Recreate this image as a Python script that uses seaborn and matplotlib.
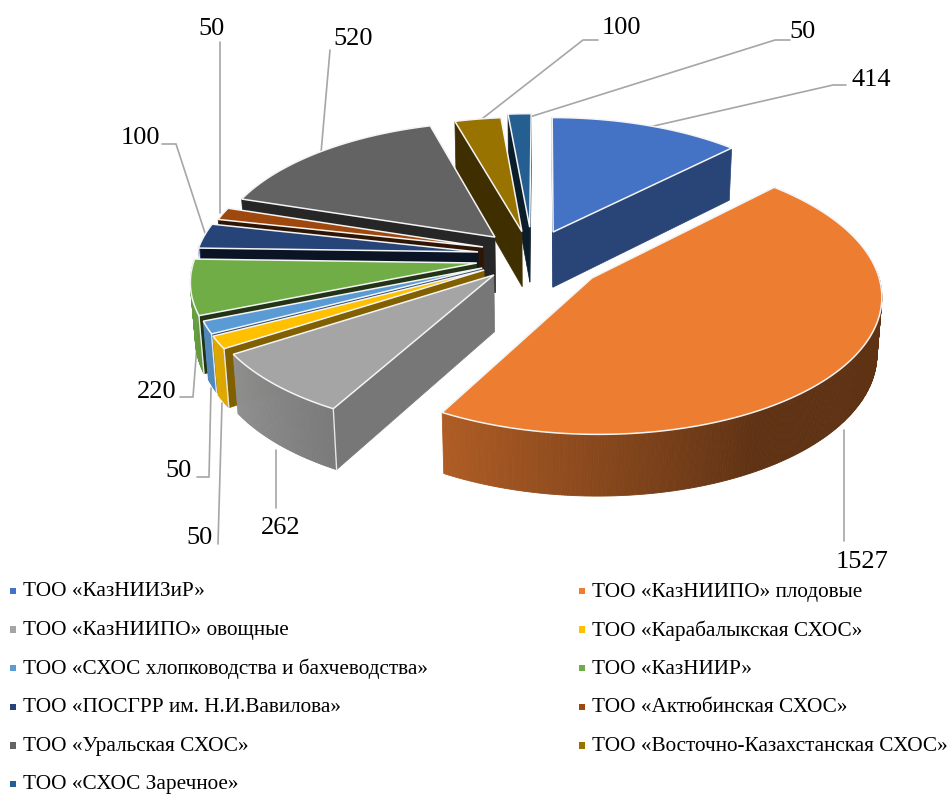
import numpy as np
import pandas as pd
import seaborn as sns
import matplotlib.pyplot as plt

names = ['ТОО «КазНИИЗиР»', 'ТОО «КазНИИПО» плодовые', 'ТОО «КазНИИПО» овощные',
         'ТОО «Карабалыкская СХОС»', 'ТОО «СХОС хлопководства и бахчеводства»', 'ТОО «КазНИИР»',
         'ТОО «ПОСГРР им. Н.И.Вавилова»', 'ТОО «Актюбинская СХОС»', 'ТОО «Уральская СХОС»',
         'ТОО «Восточно-Казахстанская СХОС»', 'ТОО «СХОС Заречное»']
values = [414, 1527, 262, 50, 50, 220, 100, 50, 520, 100, 50]
colors = ['#4472C4', '#ED7D31', '#A5A5A5', '#FFC000', '#5B9BD5', '#70AD47',
          '#264478', '#9E480E', '#636363', '#997300', '#255E91']

# смещение секторов и затемнение боковых граней
shift_x = [0.033, 0.167, -0.175, -0.21, -0.217, -0.237, -0.235, -0.218, -0.177, -0.08, -0.052]
shift_y = [0.222, -0.125, -0.103, -0.067, -0.052, -0.015, 0.068, 0.106, 0.182, 0.225, 0.26]
side_shade = [0.6, 0.6, 0.72, 0.5, 0.5, 0.3, 0.3, 0.3, 0.38, 0.41, 0.3]

# подписи: текст, его позиция и линия выноски
label_pos = [(871, 80), (862, 562), (281, 528), (200, 538), (179, 471), (157, 392),
             (140, 138), (212, 29), (353, 39), (621, 28), (803, 32)]
leaders = [[(645, 128), (833, 85), (846, 85)],
           [(844, 430), (844, 541)],
           [(276, 450), (276, 508)],
           [(222, 403), (218, 544)],
           [(211, 388), (209, 477), (197, 477)],
           [(197, 345), (193, 397), (180, 397)],
           [(205, 233), (176, 144), (162, 144)],
           [(220, 213), (220, 42)],
           [(321, 153), (330, 50)],
           [(478, 122), (583, 40), (598, 40)],
           [(520, 120), (775, 40), (790, 40)]]

Xc, Yc, a, b, k, h, m = 544, 261, 283, 134, 0.116, 57, 0.00025


def project(x, y, z=0):
    w = 1 + k * y - m * z
    return Xc + a * x / w, Yc - (b * y + z) / w


def wall_shade(theta):
    return np.interp(theta, [150, 209, 237, 270], [0.40, 0.74, 0.87, 0.92])


def darker(color, f):
    return tuple(c * f for c in color)


sns.set_theme(style='white')
plt.rcParams['font.family'] = ['Liberation Serif', 'DejaVu Serif']

palette = sns.color_palette(colors)
fig = plt.figure(figsize=(9.53, 7.94), dpi=100)
ax = fig.add_axes([0, 0, 1, 1])

# доли круга в градусах, по часовой стрелке от верха
edges = np.concatenate([[0], np.cumsum(values)]) / sum(values) * 360
mids = (edges[:-1] + edges[1:]) / 2
order = sorted(range(len(values)), key=lambda i: -(shift_y[i] + 0.6 * np.cos(np.radians(mids[i]))))

for i in order:
    t0, t1 = edges[i], edges[i + 1]
    col = palette[i]
    dx, dy = shift_x[i], shift_y[i]
    theta = np.linspace(t0, t1, max(int(t1 - t0) * 2, 4))
    rx = dx + np.sin(np.radians(theta))
    ry = dy + np.cos(np.radians(theta))
    corners = []

    # радиальные грани
    for t, normal in ((t0, t0 - 90), (t1, t1 + 90)):
        if np.cos(np.radians(normal)) < 0.02:
            ex, ey = dx + np.sin(np.radians(t)), dy + np.cos(np.radians(t))
            p = [project(dx, dy), project(ex, ey), project(ex, ey, -h), project(dx, dy, -h)]
            c = darker(col, side_shade[i])
            ax.fill(*zip(*p), color=c, lw=0.5, zorder=2)
            if np.cos(np.radians(t)) < 0.05:
                corners.append((project(ex, ey), project(ex, ey, -h)))

    # внешняя стенка
    for j in range(len(theta) - 1):
        tm = (theta[j] + theta[j + 1]) / 2
        if np.cos(np.radians(tm)) > 0.05:
            continue
        p = [project(rx[j], ry[j]), project(rx[j + 1], ry[j + 1]),
             project(rx[j + 1], ry[j + 1], -h), project(rx[j], ry[j], -h)]
        ax.fill(*zip(*p), color=darker(col, wall_shade(tm)), lw=0.6, zorder=2)

    for p in corners:
        ax.plot(*zip(*p), color='#e6e6e6', lw=1, zorder=2)

    # верхняя грань
    top = [project(dx, dy)] + [project(u, v) for u, v in zip(rx, ry)]
    ax.fill(*zip(*top), facecolor=col, edgecolor='#f4f4f4', lw=1.1, zorder=2)

# выноски лежат под кругом
for pts, pos, val in zip(leaders, label_pos, values):
    ax.plot(*zip(*pts), color='#A6A6A6', lw=1.2, zorder=1, solid_joinstyle='miter')
    ax.text(pos[0], pos[1], str(val), fontsize=19, ha='center', va='center', color='black', zorder=4)

# легенда в две колонки
legend = pd.DataFrame({'name': names,
                       'x': [13 if n % 2 == 0 else 582 for n in range(len(names))],
                       'y': [591 + 38.6 * (n // 2) for n in range(len(names))]})
sns.scatterplot(data=legend, x='x', y='y', hue='name', palette=palette, marker='s', s=22,
                linewidth=0, legend=False, ax=ax)
for _, row in legend.iterrows():
    ax.text(row['x'] + 10, row['y'] + 1, row['name'], fontsize=15.3, ha='left', va='center', color='black')

ax.set_xlim(0, 953)
ax.set_ylim(794, 0)
ax.set_xlabel('')
ax.set_ylabel('')
ax.axis('off')
fig.savefig('out.png', dpi=100)
